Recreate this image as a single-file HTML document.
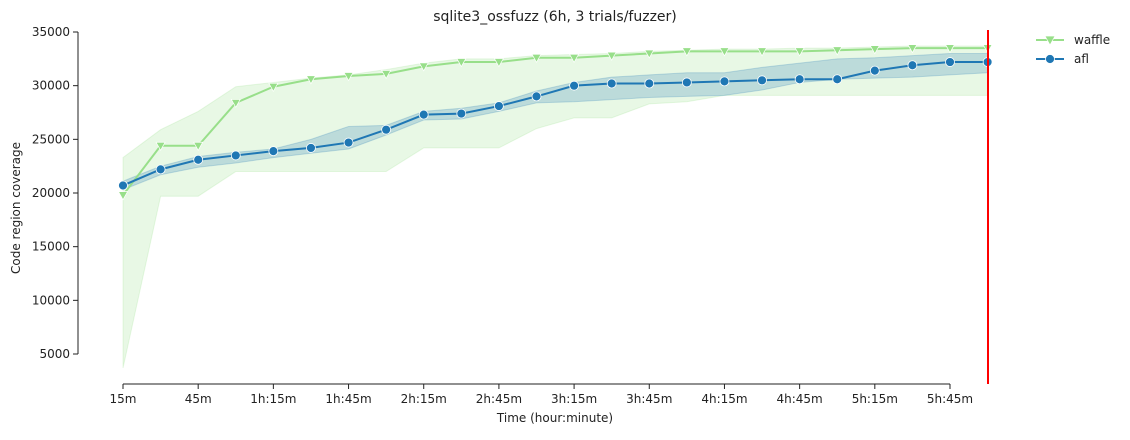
<!DOCTYPE html>
<html><head><meta charset="utf-8"><style>
body{margin:0;background:#fff;font-family:"Liberation Sans","DejaVu Sans",sans-serif}
svg text{font-family:"DejaVu Sans","Liberation Sans",sans-serif;font-size:12px;fill:#222}
</style></head><body>
<svg id="chart" width="1130" height="435" xmlns="http://www.w3.org/2000/svg">
<text x="555" y="21" text-anchor="middle" font-size="14" style="font-size:14px">sqlite3_ossfuzz (6h, 3 trials/fuzzer)</text>
<g id="bands"></g><g id="lines"></g><g id="axes"></g>
<line x1="988" y1="30" x2="988" y2="384" stroke="#ff0000" stroke-width="2"/>
<g>
<g><line x1="1036" y1="40" x2="1064" y2="40" stroke="#98df8a" stroke-width="2"/><path d="M1045,36 L1055,36 L1050,45 Z" fill="#98df8a" stroke="#fff" stroke-width="0.7"/><text x="1074" y="44">waffle</text></g>
<g><line x1="1036" y1="59" x2="1064" y2="59" stroke="#1f77b4" stroke-width="2"/><circle cx="1050" cy="59" r="4.5" fill="#1f77b4" stroke="#fff" stroke-width="0.8"/><text x="1074" y="63">afl</text></g>
</g>
<text x="555" y="422" text-anchor="middle">Time (hour:minute)</text>
<text transform="translate(20,208) rotate(-90)" text-anchor="middle">Code region coverage</text>
</svg>
<script>
const minutes=[15,30,45,60,75,90,105,120,135,150,165,180,195,210,225,240,255,270,285,300,315,330,345,360];
const waffleMean=[19800,24400,24400,28400,29900,30600,30900,31100,31800,32200,32200,32600,32600,32800,33000,33200,33200,33200,33200,33300,33400,33500,33500,33500];
const waffleLow=[3700,19700,19700,22000,22000,22000,22000,22000,24200,24200,24200,26000,27000,27000,28300,28500,29100,29100,29100,29100,29100,29100,29100,29100];
const waffleHigh=[23300,25900,27600,29900,30300,30700,31000,31500,32100,32500,32500,32800,32900,33000,33200,33300,33400,33400,33500,33500,33600,33700,33700,33700];
const aflMean=[20700,22200,23100,23500,23900,24200,24700,25900,27300,27400,28100,29000,30000,30200,30200,30300,30400,30500,30600,30600,31400,31900,32200,32200];
const aflLow=[20300,21700,22400,22800,23300,23700,24100,25400,26800,26900,27600,28400,28500,28700,28900,29000,29100,29600,30300,30600,30700,30800,31000,31200];
const aflHigh=[21100,22500,23400,23800,24100,25000,26200,26300,27600,27900,28400,29500,30300,30800,31000,31200,31200,31700,32100,32500,32600,32800,33000,33000];
const yTicks=[5000,10000,15000,20000,25000,30000,35000];
const xTickMin=[15,45,75,105,135,165,195,225,255,285,315,345];
const xTickLabels=["15m","45m","1h:15m","1h:45m","2h:15m","2h:45m","3h:15m","3h:45m","4h:15m","4h:45m","5h:15m","5h:45m"];
const NS="http://www.w3.org/2000/svg";
const X=m=>123+(m-15)*(950-123)/330;
const Y=v=>32+(35000-v)*(354-32)/30000;
function mk(t,a,p){const e=document.createElementNS(NS,t);for(const k in a)e.setAttribute(k,a[k]);p.appendChild(e);return e;}
const bands=document.getElementById('bands'),lines=document.getElementById('lines'),axes=document.getElementById('axes');
function band(lo,hi,fill,op,name){
 let d=minutes.map((m,i)=>(i?'L':'M')+X(m)+','+Y(hi[i])).join(' ');
 for(let i=minutes.length-1;i>=0;i--)d+=' L'+X(minutes[i])+','+Y(lo[i]);
 const p=mk('path',{d:d+' Z',fill:fill,'fill-opacity':op,stroke:fill,'stroke-opacity':op},bands);
 
 
}
band(waffleLow,waffleHigh,'#98df8a',0.22,'waffle-ci-band');
band(aflLow,aflHigh,'#1f77b4',0.22,'afl-ci-band');
function line(vals,col,name){
 const p=mk('polyline',{points:minutes.map((m,i)=>X(m)+','+Y(vals[i])).join(' '),fill:'none',stroke:col,'stroke-width':2},lines);
 
 
}
line(waffleMean,'#98df8a','waffle-line');
line(aflMean,'#1f77b4','afl-line');
minutes.forEach((m,i)=>{
 const x=X(m),y=Y(waffleMean[i]);
 const t=mk('path',{d:`M${x-4.5},${y-3.5} L${x+4.5},${y-3.5} L${x},${y+4.5} Z`,fill:'#98df8a',stroke:'#fff','stroke-width':0.7},lines);
 
 
});
minutes.forEach((m,i)=>{
 const c=mk('circle',{cx:X(m),cy:Y(aflMean[i]),r:4.5,fill:'#1f77b4',stroke:'#fff','stroke-width':0.8},lines);
 
 
});
const ys=mk('line',{x1:78,y1:Y(35000),x2:78,y2:Y(5000),stroke:'#222','stroke-width':1},axes);


yTicks.forEach(v=>{
 mk('line',{x1:73,y1:Y(v),x2:78,y2:Y(v),stroke:'#222'},axes);
 const t=mk('text',{x:70,y:Y(v)+4,'text-anchor':'end'},axes);t.textContent=v;
 
 
});
const xs=mk('line',{x1:X(15),y1:384,x2:X(345),y2:384,stroke:'#222','stroke-width':1},axes);


xTickMin.forEach((m,i)=>{
 mk('line',{x1:X(m),y1:384,x2:X(m),y2:389,stroke:'#222'},axes);
 const t=mk('text',{x:X(m),y:403,'text-anchor':'middle'},axes);t.textContent=xTickLabels[i];
 
 
});
</script>
</body></html>
